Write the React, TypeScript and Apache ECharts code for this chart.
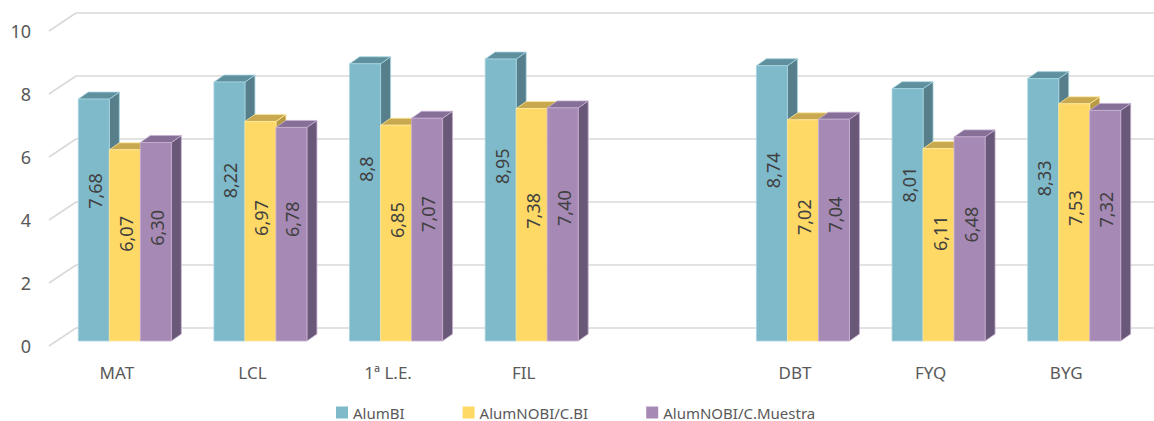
import React, { useEffect, useRef } from 'react';
import * as echarts from 'echarts';

const categories = ['MAT', 'LCL', '1ª L.E.', 'FIL', '', 'DBT', 'FYQ', 'BYG'];
const alumBI = [7.68, 8.22, 8.8, 8.95, null, 8.74, 8.01, 8.33];
const alumNOBICBI = [6.07, 6.97, 6.85, 7.38, null, 7.02, 6.11, 7.53];
const alumNOBICMuestra = [6.3, 6.78, 7.07, 7.4, null, 7.04, 6.48, 7.32];
const yTicks = [0, 2, 4, 6, 8, 10];
const seriesNames = ['AlumBI', 'AlumNOBI/C.BI', 'AlumNOBI/C.Muestra'];

const FONT = '"Noto Sans", sans-serif';

const palettes = [
  { front: '#7fbacb', side: '#567f8b', top: '#5f909e', stroke: '#a6d3e0' },
  { front: '#ffd966', side: '#b89a45', top: '#c8a94f', stroke: '#ffe89c' },
  { front: '#a689b4', side: '#6a5878', top: '#877098', stroke: '#c6b0d2' },
];

function fmt(v: number, fixed: boolean) {
  const s = fixed ? v.toFixed(2) : String(v);
  return s.replace('.', ',');
}

function makeBarRender(slot: number, pal: any, labelFactor: number, fixed: boolean) {
  return (params: any, api: any) => {
    const v = api.value(1);
    if (v == null || isNaN(v)) return null;
    const idx = api.value(0);
    const base = api.coord([idx, 0]);
    const top = api.coord([idx, v]);
    const W = 31;
    const DX = 10;
    const DY = 7;
    const x0 = base[0] + 8 - 1.5 * W + slot * W;
    const x1 = x0 + W;
    const y0 = base[1];
    const y1 = top[1];
    const labelY = y0 - labelFactor * (y0 - y1);
    return {
      type: 'group',
      children: [
        {
          type: 'polygon',
          shape: { points: [[x1, y1], [x1 + DX, y1 - DY], [x1 + DX, y0 - DY], [x1, y0]] },
          style: { fill: pal.side, stroke: pal.stroke, lineWidth: 0.8 },
        },
        {
          type: 'polygon',
          shape: { points: [[x0, y1], [x1, y1], [x1 + DX, y1 - DY], [x0 + DX, y1 - DY]] },
          style: { fill: pal.top, stroke: pal.stroke, lineWidth: 0.8 },
        },
        {
          type: 'rect',
          shape: { x: x0, y: y1, width: W, height: y0 - y1 },
          style: { fill: pal.front, stroke: pal.stroke, lineWidth: 0.8 },
        },
        {
          type: 'text',
          x: (x0 + x1) / 2 + 1,
          y: labelY,
          rotation: Math.PI / 2,
          style: {
            text: fmt(v, fixed),
            fill: '#404040',
            font: `18px ${FONT}`,
            align: 'center',
            verticalAlign: 'middle',
          },
        },
      ],
    };
  };
}

const toData = (arr: (number | null)[]) =>
  arr.map((v, i) => (v == null ? null : [i, v])).filter((d) => d !== null);

export default function App() {
  const ref = useRef<HTMLDivElement>(null);
  useEffect(() => {
    if (!ref.current) return;
    const chart = echarts.init(ref.current, undefined, { renderer: 'svg' });
    const seriesArrays = [alumBI, alumNOBICBI, alumNOBICMuestra];
    const labelFactors = [0.62, 0.56, 0.57];
    const fixedFmt = [false, true, true];
    chart.setOption({
      animation: false,
      backgroundColor: '#ffffff',
      color: palettes.map((p) => p.front),
      grid: { left: 49, right: 20, top: 26, bottom: 80 },
      legend: {
        data: seriesNames,
        left: 331,
        top: 400,
        icon: 'rect',
        itemWidth: 12,
        itemHeight: 12,
        itemGap: 58,
        textStyle: { fontFamily: FONT, fontSize: 15, color: '#595959' },
      },
      xAxis: {
        type: 'category',
        data: categories,
        axisLine: { show: false },
        axisTick: { show: false },
        axisLabel: { margin: 23, fontFamily: FONT, fontSize: 17, color: '#595959' },
        splitLine: { show: false },
      },
      yAxis: {
        type: 'value',
        min: 0,
        max: 10,
        interval: 2,
        axisLine: { show: false },
        axisTick: { show: false },
        splitLine: { show: false },
        axisLabel: { show: false },
      },
      series: [
        {
          type: 'custom',
          name: 'grid',
          silent: true,
          z: 0,
          data: yTicks.map((v) => [0, v]),
          renderItem: (params: any, api: any) => {
            const v = api.value(1);
            const c = api.coord([0, v]);
            const y = c[1];
            const cs = params.coordSys;
            const style = { stroke: '#d9d9d9', lineWidth: 1.6 };
            return {
              type: 'group',
              children: [
                { type: 'line', shape: { x1: cs.x, y1: y + 5, x2: cs.x + 27, y2: y - 13 }, style },
                { type: 'line', shape: { x1: cs.x + 27, y1: y - 13, x2: 1154, y2: y - 13 }, style },
                {
                  type: 'text',
                  x: cs.x - 18,
                  y: y + 5,
                  style: {
                    text: String(v),
                    fill: '#595959',
                    font: `18px ${FONT}`,
                    align: 'right',
                    verticalAlign: 'middle',
                  },
                },
              ],
            };
          },
        },
        ...seriesArrays.map((arr, si) => ({
          type: 'custom',
          name: seriesNames[si],
          z: 2 + si,
          itemStyle: { color: palettes[si].front },
          data: toData(arr),
          renderItem: makeBarRender(si, palettes[si], labelFactors[si], fixedFmt[si]),
        })),
      ],
    });
    return () => chart.dispose();
  }, []);
  return (
    <div
      ref={ref}
      style={{ position: 'fixed', left: 0, top: 0, width: 1154, height: 421, background: '#fff' }}
    />
  );
}
